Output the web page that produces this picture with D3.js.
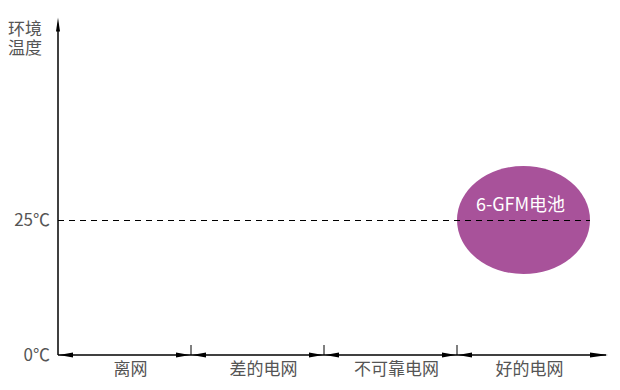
<!DOCTYPE html>
<html>
<head>
<meta charset="utf-8">
<script src="https://cdn.jsdelivr.net/npm/d3@7"></script>
<style>
  body { margin: 0; background: #fff; }
  text { font-family: "Noto Sans CJK SC", "Noto Sans", sans-serif; }
</style>
</head>
<body>
<div id="chart"></div>
<script>
// categories along x (grid quality)
const categories = ["离网", "差的电网", "不可靠电网", "好的电网"];
// y ticks (ambient temperature)
const tempTicks = [0, 25];
const tempTickLabels = ["0℃", "25℃"];
const yTitle = ["环境", "温度"];
// the battery blob: category, temp range
const batteries = [{ name: "6-GFM电池", category: "好的电网", low: 15, high: 35, mid: 25 }];
const refTemp = 25;

const svg = d3.select("#chart").append("svg")
    .attr("width", 620).attr("height", 390);

const x = d3.scaleBand().domain(categories).range([58, 590]);
const y = d3.scaleLinear().domain([0, 62.5]).range([355, 17.5]);

const axisColor = "#000";
const textColor = "#555";

// arrow heads
function arrowHead(tipX, tipY, dir, len, half) {
    // dir: 1 = points right, -1 = left, "up"
    let pts;
    if (dir === "up") {
        pts = [[tipX, tipY], [tipX - half, tipY + len], [tipX + half, tipY + len]];
    } else {
        pts = [[tipX, tipY], [tipX - dir * len, tipY - half], [tipX - dir * len, tipY + half]];
    }
    svg.append("path")
        .attr("d", d3.line()(pts) + "Z")
        .attr("fill", axisColor);
}

const y0 = y(0);

// x axis line
svg.append("line")
    .attr("x1", x.range()[0]).attr("x2", 606)
    .attr("y1", y0).attr("y2", y0)
    .attr("stroke", axisColor).attr("stroke-width", 1.5);

// double arrows per category segment
categories.forEach((c, i) => {
    const a = x(c), b = x(c) + x.bandwidth();
    arrowHead(a + 1, y0, -1, 14, 2.5);
    if (i < categories.length - 1) arrowHead(b - 1, y0, 1, 14, 2.5);
});
arrowHead(608, y0, 1, 18, 2.5);

// separator ticks
categories.slice(1).forEach(c => {
    svg.append("line")
        .attr("x1", x(c)).attr("x2", x(c))
        .attr("y1", y0).attr("y2", y0 - 10)
        .attr("stroke", axisColor).attr("stroke-width", 1);
});

// category labels
svg.selectAll("text.cat").data(categories).enter()
    .append("text").attr("class", "cat")
    .attr("x", d => x(d) + x.bandwidth() / 2 + 6)
    .attr("y", y0 + 20)
    .attr("text-anchor", "middle")
    .attr("font-size", 17)
    .attr("fill", textColor)
    .text(d => d);

// y axis
svg.append("line")
    .attr("x1", 58).attr("x2", 58)
    .attr("y1", y0).attr("y2", y.range()[1] + 8)
    .attr("stroke", axisColor).attr("stroke-width", 1.5);
arrowHead(58, y.range()[1], "up", 14, 2);

// y tick labels
svg.selectAll("text.ytick").data(tempTicks).enter()
    .append("text").attr("class", "ytick")
    .attr("x", 50)
    .attr("y", d => y(d) + 6)
    .attr("text-anchor", "end")
    .attr("font-size", 17)
    .attr("fill", textColor)
    .text((d, i) => tempTickLabels[i]);

// y title, two lines in one text
const yt = svg.append("text")
    .attr("x", 8).attr("y", 35)
    .attr("font-size", 17)
    .attr("fill", textColor);
yt.selectAll("tspan").data(yTitle).enter()
    .append("tspan")
    .attr("x", 8)
    .attr("dy", (d, i) => i === 0 ? 0 : 19)
    .text(d => d);

// battery ellipse
svg.selectAll("ellipse.batt").data(batteries).enter()
    .append("ellipse").attr("class", "batt")
    .attr("cx", d => x(d.category) + x.bandwidth() / 2)
    .attr("cy", d => y(d.mid))
    .attr("rx", x.bandwidth() / 2)
    .attr("ry", d => (y(d.low) - y(d.high)) / 2)
    .attr("fill", "#a8529a");

// dashed reference line
svg.append("line")
    .attr("x1", 58).attr("x2", x.range()[1])
    .attr("y1", y(refTemp) + 0.5).attr("y2", y(refTemp) + 0.5)
    .attr("stroke", "#000").attr("stroke-width", 1)
    .attr("stroke-dasharray", "6,5");

// battery label
svg.selectAll("text.batt").data(batteries).enter()
    .append("text").attr("class", "batt")
    .attr("x", d => x(d.category) + x.bandwidth() / 2 - 3)
    .attr("y", d => y(d.mid) - 9)
    .attr("text-anchor", "middle")
    .attr("font-size", 18)
    .attr("fill", "#fff")
    .text(d => d.name);
</script>
</body>
</html>
